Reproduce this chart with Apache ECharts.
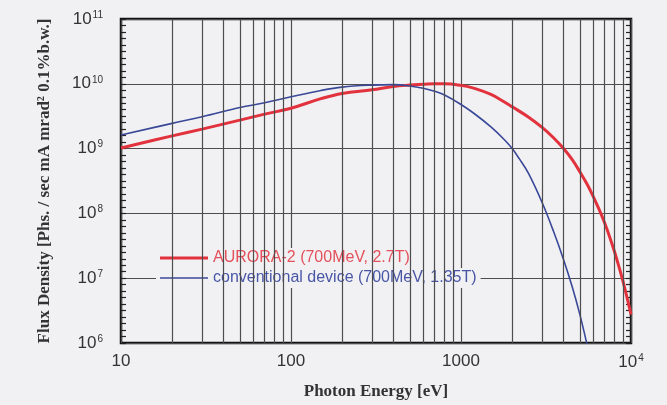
<!DOCTYPE html>
<html>
<head>
<meta charset="utf-8">
<script src="https://cdn.jsdelivr.net/npm/echarts@6/dist/echarts.min.js"></script>
<style>
    html, body { margin: 0; padding: 0; background: #f1f1f3; }
    #chart { width: 667px; height: 405px; }
</style>
</head>
<body>
<div id="chart"></div>
<script>
// photon energy [eV] and flux density
var redEnergy = [10, 20, 30, 50, 70, 100, 150, 200, 300, 400, 500, 600, 700, 800, 1000, 1200, 1500, 1800, 2000, 2500, 3000, 3500, 4000, 4500, 5000, 5500, 6000, 6500, 7000, 7500, 8000, 8500, 9000, 9500, 10000]
var redFlux = [1.02e9, 1.57e9, 2.0e9, 2.75e9, 3.4e9, 4.2e9, 5.9e9, 7.1e9, 8.1e9, 9.1e9, 9.55e9, 9.8e9, 1.0e10, 1.0e10, 9.45e9, 8.5e9, 6.84e9, 5.25e9, 4.42e9, 3.05e9, 2.12e9, 1.47e9, 1.01e9, 6.8e8, 4.4e8, 2.86e8, 1.82e8, 1.14e8, 7.1e7, 4.3e7, 2.56e7, 1.5e7, 8.7e6, 4.9e6, 2.75e6]

var blueEnergy = [10, 20, 30, 50, 70, 100, 150, 200, 300, 400, 500, 600, 700, 800, 1000, 1200, 1500, 1800, 2000, 2200, 2500, 3000, 3500, 4000, 4500, 5000, 5500, 5700]
var blueFlux = [1.62e9, 2.45e9, 3.1e9, 4.3e9, 5.1e9, 6.3e9, 7.9e9, 8.9e9, 9.55e9, 9.7e9, 9.27e9, 8.53e9, 7.66e9, 6.7e9, 4.8e9, 3.45e9, 2.16e9, 1.37e9, 1.0e9, 7.0e8, 4.1e8, 1.47e8, 5.3e7, 1.98e7, 7.5e6, 2.77e6, 9.7e5, 6.3e5]

var seriesNames = ['AURORA-2 (700MeV, 2.7T)', 'conventional device (700MeV, 1.35T)']
var xTickLabels = ['10', '100', '1000', '{b|10}{s|4}']
var yTickLabels = ['6', '7', '8', '9', '10', '11']
// 2..9 lines inside each decade
var minorX = [20, 30, 40, 50, 60, 70, 80, 90, 200, 300, 400, 500, 600, 700, 800, 900, 2000, 3000, 4000, 5000, 6000, 7000, 8000, 9000]

function zip(xs, ys) {
    return xs.map(function (x, i) { return [x, ys[i]] })
}

var gridColor = '#4d4d4d'
var red = '#e2323d'
var blue = '#3a4898'
var bg = '#f1f1f3'

var labelRich = {
    b: { fontFamily: 'Liberation Sans', fontSize: 17, color: '#333' },
    s: { fontFamily: 'Liberation Sans', fontSize: 10, color: '#333', verticalAlign: 'top', padding: [0, 0, 8, 1] }
}

// dense little ticks inside the left and right frame (exponent scale, no labels)
function tickAxis(pos) {
    return {
        type: 'value',
        position: pos,
        min: 6,
        max: 11,
        interval: 0.1,
        axisLine: { show: false, onZero: false },
        axisLabel: { show: false },
        splitLine: { show: false },
        axisTick: { show: true, inside: true, interval: 0, length: 5, lineStyle: { color: '#222', width: 1.2 } }
    }
}

var legendBase = {
    orient: 'vertical',
    itemWidth: 48,
    icon: 'rect',
    padding: [2, 4],
    backgroundColor: bg,
    textStyle: { fontFamily: 'Liberation Sans', fontSize: 16 }
}

var option = {
    backgroundColor: bg,
    animation: false,
    grid: {
        left: 121,
        right: 36,
        top: 19,
        bottom: 61,
        show: true,
        borderColor: '#111',
        borderWidth: 2.5,
        backgroundColor: 'transparent'
    },
    legend: [
        Object.assign({}, legendBase, {
            left: 156,
            top: 248,
            itemHeight: 3,
            data: [{ name: seriesNames[0], textStyle: { color: '#e4505b' } }]
        }),
        Object.assign({}, legendBase, {
            left: 156,
            top: 268,
            itemHeight: 1.6,
            data: [{ name: seriesNames[1], textStyle: { color: '#4856a6' } }]
        })
    ],
    xAxis: {
        type: 'log',
        logBase: 10,
        min: 10,
        max: 10000,
        splitNumber: 3,
        name: 'Photon Energy [eV]',
        nameLocation: 'middle',
        nameGap: 40,
        nameTextStyle: { fontFamily: 'Liberation Serif', fontSize: 17, fontWeight: 'bold', color: '#333' },
        axisLine: { show: false },
        axisTick: { show: false },
        axisLabel: {
            margin: 10,
            fontFamily: 'Liberation Sans',
            fontSize: 17,
            color: '#333',
            rich: labelRich,
            formatter: function (v) {
                return xTickLabels[Math.round(Math.log10(v)) - 1]
            }
        },
        splitLine: { show: true, lineStyle: { color: gridColor, width: 1.2 } }
    },
    yAxis: [
        {
            type: 'log',
            logBase: 10,
            min: 1e6,
            max: 1e11,
            splitNumber: 5,
            position: 'left',
            name: 'Flux Density [Phs. / sec mA mrad² 0.1%b.w.]',
            nameLocation: 'middle',
            nameGap: 68,
            nameTextStyle: { fontFamily: 'Liberation Serif', fontSize: 17, fontWeight: 'bold', color: '#333' },
            axisLine: { show: false },
            axisTick: { show: false },
            axisLabel: {
                margin: 18,
                rich: labelRich,
                formatter: function (v) {
                    return '{b|10}{s|' + yTickLabels[Math.round(Math.log10(v)) - 6] + '}'
                }
            },
            splitLine: { show: true, lineStyle: { color: gridColor, width: 1.2 } }
        },
        tickAxis('left'),
        tickAxis('right')
    ],
    series: [
        {
            name: 'minor',
            type: 'line',
            data: [],
            z: 1,
            silent: true,
            markLine: {
                silent: true,
                symbol: ['none', 'none'],
                label: { show: false },
                lineStyle: { color: gridColor, width: 1.2, type: 'solid' },
                data: minorX.map(function (v) { return { xAxis: v } })
            }
        },
        {
            name: seriesNames[0],
            type: 'line',
            symbol: 'none',
            smooth: 0.4,
            z: 3,
            lineStyle: { color: red, width: 3 },
            itemStyle: { color: red },
            data: zip(redEnergy, redFlux)
        },
        {
            name: seriesNames[1],
            type: 'line',
            symbol: 'none',
            smooth: 0.4,
            z: 4,
            lineStyle: { color: blue, width: 1.6 },
            itemStyle: { color: blue },
            data: zip(blueEnergy, blueFlux)
        }
    ]
}

var myChart = echarts.init(document.getElementById('chart'))
myChart.setOption(option)
</script>
</body>
</html>
